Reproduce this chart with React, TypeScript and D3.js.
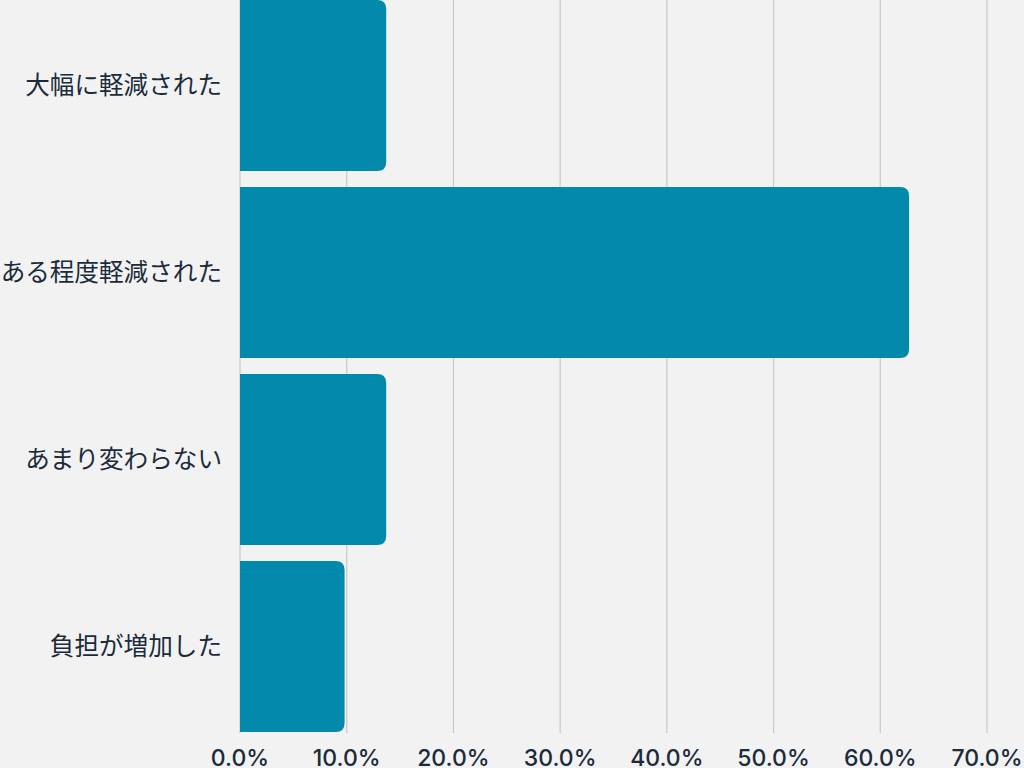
import React from 'react';
import * as d3 from 'd3';

const W = 1024;
const H = 768;

const categories = ['大幅に軽減された', 'ある程度軽減された', 'あまり変わらない', '負担が増加した'];
const values = [13.7, 62.7, 13.7, 9.8];
const ticks = [0, 10, 20, 30, 40, 50, 60, 70];

const BAR = '#0389ab';
const INK = '#1c2b3a';

// right-rounded bar path
function barPath(x0: number, x1: number, y0: number, h: number, r: number) {
  const rr = Math.min(r, (x1 - x0) / 2, h / 2);
  return `M${x0},${y0}H${x1 - rr}Q${x1},${y0} ${x1},${y0 + rr}V${y0 + h - rr}Q${x1},${y0 + h} ${x1 - rr},${y0 + h}H${x0}Z`;
}

export default function App() {
  const x = d3.scaleLinear().domain([0, 70]).range([240, 987]);
  const y = d3.scaleBand<string>().domain(categories).range([-8, 740]).paddingInner(0.086).paddingOuter(0.043);
  const gridBottom = 733;

  return (
    <svg width={W} height={H} style={{ display: 'block', position: 'absolute', left: 0, top: 0 }}>
      <rect width={W} height={H} fill="#f2f2f2" />
      {ticks.map(t => (
        <line key={t} x1={x(t)} x2={x(t)} y1={0} y2={gridBottom} stroke="#c9c9c9" strokeWidth={1.2} />
      ))}
      {categories.map((c, i) => (
        <path key={c} d={barPath(x(0), x(values[i]), y(c)!, y.bandwidth(), 9)} fill={BAR} />
      ))}
      {categories.map(c => (
        <text
          key={c}
          x={222}
          y={y(c)! + y.bandwidth() / 2}
          dy="0.35em"
          textAnchor="end"
          fontFamily="'Noto Sans CJK JP', 'Noto Sans', sans-serif"
          fontSize={24.6}
          fill={INK}
        >
          {c}
        </text>
      ))}
      {ticks.map(t => (
        <text
          key={t}
          x={x(t)}
          y={766}
          textAnchor="middle"
          fontFamily="Inter, 'Noto Sans', sans-serif"
          fontWeight={500}
          fontSize={23}
          fill={INK}
        >
          {d3.format('.1f')(t)}%
        </text>
      ))}
    </svg>
  );
}
